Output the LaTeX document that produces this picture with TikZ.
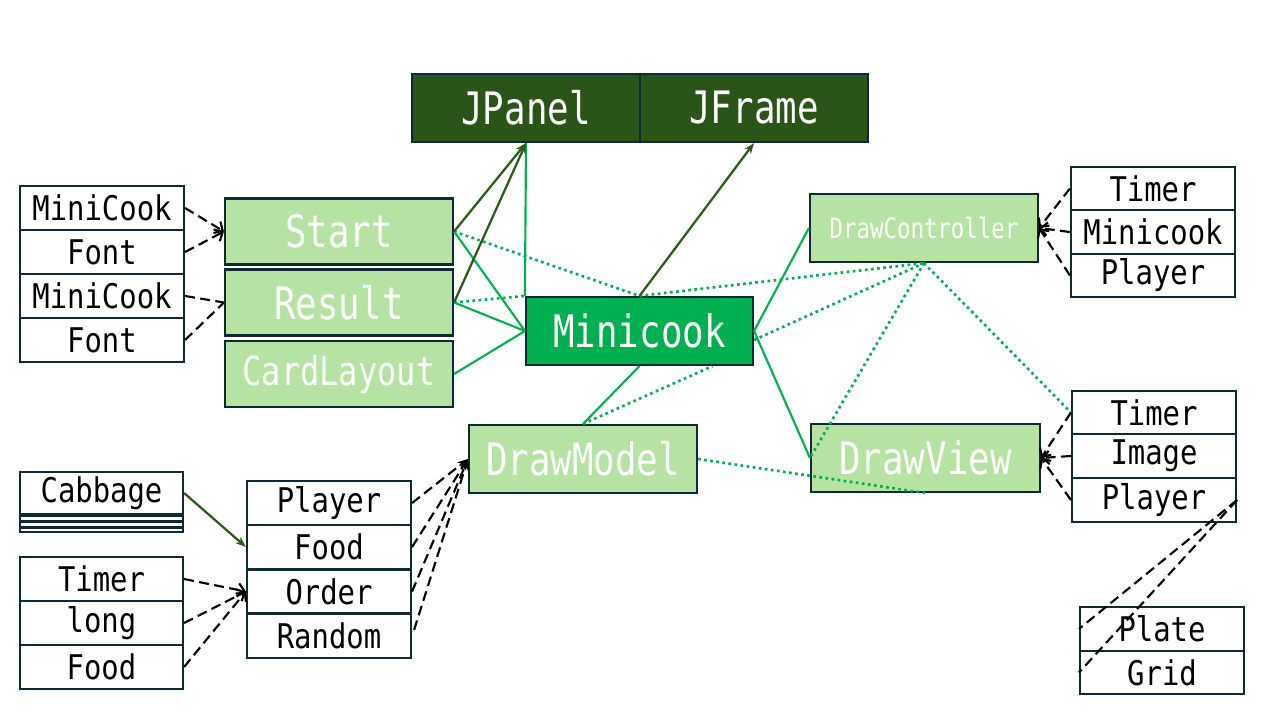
\documentclass[tikz,border=0pt]{standalone}
\usepackage{fontspec}
\newfontfamily\gfont[FakeStretch=0.85]{DejaVu Sans Mono}
\newfontfamily\gbig[FakeStretch=0.8]{DejaVu Sans Mono}
\usetikzlibrary{arrows.meta,calc}
\definecolor{bord}{HTML}{0E2A35}
\definecolor{dkfill}{HTML}{2A5418}
\definecolor{dkline}{HTML}{2E5A1C}
\definecolor{ltfill}{HTML}{B6E3A3}
\definecolor{mdgreen}{HTML}{00B050}
\begin{document}
\begin{tikzpicture}[x=0.75pt,y=-0.75pt,
  base/.style={draw=bord, line width=1.6pt, inner sep=0pt, font=\gfont},
  wh/.style 2 args={minimum width=#1*0.75pt, minimum height=#2*0.75pt},
  fs/.style={font=\gfont\fontsize{#1}{#1}\selectfont},
  fb/.style={font=\gbig\fontsize{#1}{#1}\selectfont},
  dkbox/.style={base, fill=dkfill, text=white, wh={228}{68}, fb=33.5},
  ltbox/.style={base, fill=ltfill, text=white, wh={228}{68}, fb=33.5},
  mdbox/.style={base, fill=mdgreen, text=white, wh={227}{68}, fb=33.5},
  row/.style={base, fill=white, text=black, wh={164}{44}, fs=25.5},
  dsh/.style={draw=black, line width=1.6pt, dash pattern=on 7.5pt off 4pt},
  openhead/.style={-{Straight Barb[length=5pt,width=10pt,line width=1.6pt]}},
  fillhead/.style={-{Stealth[length=8pt,width=6pt]}},
  solidgr/.style={draw=mdgreen, line width=1.6pt},
  dotgr/.style={draw=mdgreen, line width=2pt, dash pattern=on 2pt off 2.6pt},
  dkarrow/.style={draw=dkline, line width=1.7pt, -{Stealth[length=8pt,width=6pt]}},
  thickrule/.style={draw=bord, line width=2.4pt}
]
\useasboundingbox (0,0) rectangle (1280,720);

% top classes
\node[dkbox] (jpanel) at (526,108) {JPanel};
\node[dkbox] (jframe) at (754,108) {JFrame};

% left green boxes
\node[ltbox, wh={228}{66}] (start) at (339,231.5) {Start};
\node[ltbox, wh={228}{66}] (result) at (339,302.5) {Result};
\node[ltbox, wh={228}{66}, fb=30] (card) at (339,374) {CardLayout};

% main
\node[mdbox] (minicook) at (639.5,331) {Minicook};
\node[ltbox] (drawmodel) at (583,459) {DrawModel};
\node[ltbox, wh={229}{68}] (drawview) at (925.5,458) {DrawView};
\node[ltbox, fb=21] (drawctrl) at (924,228) {DrawController};

% left stack
\node[row] (lmc1) at (102,208) {MiniCook};
\node[row] (lfont1) at (102,252) {Font};
\node[row] (lmc2) at (102,296) {MiniCook};
\node[row] (lfont2) at (102,340) {Font};

% cabbage
\node[row, wh={163}{42}] (cab) at (101.5,493) {Cabbage};
\draw[draw=bord, line width=1.6pt] (20,514) rectangle (183,532);
\draw[thickrule] (20,515) -- (183,515);
\draw[thickrule] (20,521.5) -- (183,521.5);
\draw[thickrule] (20,527.5) -- (183,527.5);

% timer / long / food
\node[row, wh={163}{44}] (btimer) at (101.5,579) {Timer};
\node[row, wh={163}{44}] (blong) at (101.5,623) {long};
\node[row, wh={163}{44}] (bfood) at (101.5,667) {Food};

% player / food / order / random
\node[row] (pplayer) at (329,503) {Player};
\node[row] (pfood) at (329,547) {Food};
\node[row] (porder) at (329,591.5) {Order};
\node[row] (prand) at (329,636) {Random};

% right top stack
\node[row, wh={164}{43.3}] (rtimer) at (1153,188.5) {Timer};
\node[row, wh={164}{43.3}] (rmini) at (1153,232) {Minicook};
\node[row, wh={164}{43.3}] (rplayer) at (1153,275.5) {Player};

% right middle stack
\node[row, wh={164}{43.7}] (mtimer) at (1154,412.5) {Timer};
\node[row, wh={164}{43.7}] (mimage) at (1154,456) {Image};
\node[row, wh={164}{43.7}] (mplayer) at (1154,500) {Player};

% plate / grid
\node[row, wh={164}{43.5}] (plate) at (1162,629) {Plate};
\node[row, wh={164}{43.5}] (grid) at (1162,672.5) {Grid};

% ---- connectors ----
% bright green solid
\draw[solidgr] (jpanel.south) -- (minicook.north west);
\draw[solidgr] (start.east) -- (minicook.west);
\draw[solidgr] (result.east) -- (minicook.west);
\draw[solidgr] (card.east) -- (minicook.west);
\draw[solidgr] (minicook.east) -- (drawctrl.west);
\draw[solidgr] (minicook.east) -- (drawview.west);
\draw[solidgr] (minicook.south) -- (drawmodel.north);

% dotted green
\draw[dotgr] (start.east) -- (minicook.north);
\draw[dotgr] (result.east) -- (minicook.north west);
\draw[dotgr] (minicook.north) -- (drawctrl.south);
\draw[dotgr] ($(minicook.east)+(0,9)$) -- (drawctrl.south);
\draw[dotgr] (drawctrl.south) -- (drawview.west);
\draw[dotgr] (drawctrl.south) -- (mtimer.west);
\draw[dotgr] (drawmodel.north) -- ($(minicook.south)+(73,0)$);
\draw[dotgr] (drawmodel.east) -- (drawview.south);

% dark green arrows
\draw[dkarrow] (start.east) -- (jpanel.south);
\draw[dkarrow] (result.east) -- (jpanel.south);
\draw[dkarrow] (minicook.north) -- (jframe.south);
\draw[dkarrow] (cab.east) -- (pfood.west);

% black dashed dependencies
\draw[dsh, openhead] (lmc1.east) -- (start.west);
\draw[dsh, openhead] (lfont1.east) -- (start.west);
\draw[dsh] (lmc2.east) -- (result.west);
\draw[dsh] (lfont2.east) -- (result.west);

\draw[dsh, openhead] (btimer.east) -- (porder.west);
\draw[dsh, openhead] (blong.east) -- (porder.west);
\draw[dsh, openhead] (bfood.east) -- (porder.west);

\draw[dsh, fillhead] (pplayer.east) -- (drawmodel.west);
\draw[dsh, fillhead] (pfood.east) -- (drawmodel.west);
\draw[dsh, fillhead] (porder.east) -- (drawmodel.west);
\draw[dsh, fillhead] ($(prand.east)+(2,-6)$) -- (drawmodel.west);

\draw[dsh, openhead] (rtimer.west) -- (drawctrl.east);
\draw[dsh, openhead] (rmini.west) -- (drawctrl.east);
\draw[dsh, openhead] (rplayer.west) -- (drawctrl.east);

\draw[dsh, openhead] (mtimer.west) -- (drawview.east);
\draw[dsh, openhead] (mimage.west) -- (drawview.east);
\draw[dsh, openhead] (mplayer.west) -- (drawview.east);

\draw[dsh] (mplayer.east) -- (plate.west);
\draw[dsh] (mplayer.east) -- (grid.west);
\end{tikzpicture}
\end{document}
